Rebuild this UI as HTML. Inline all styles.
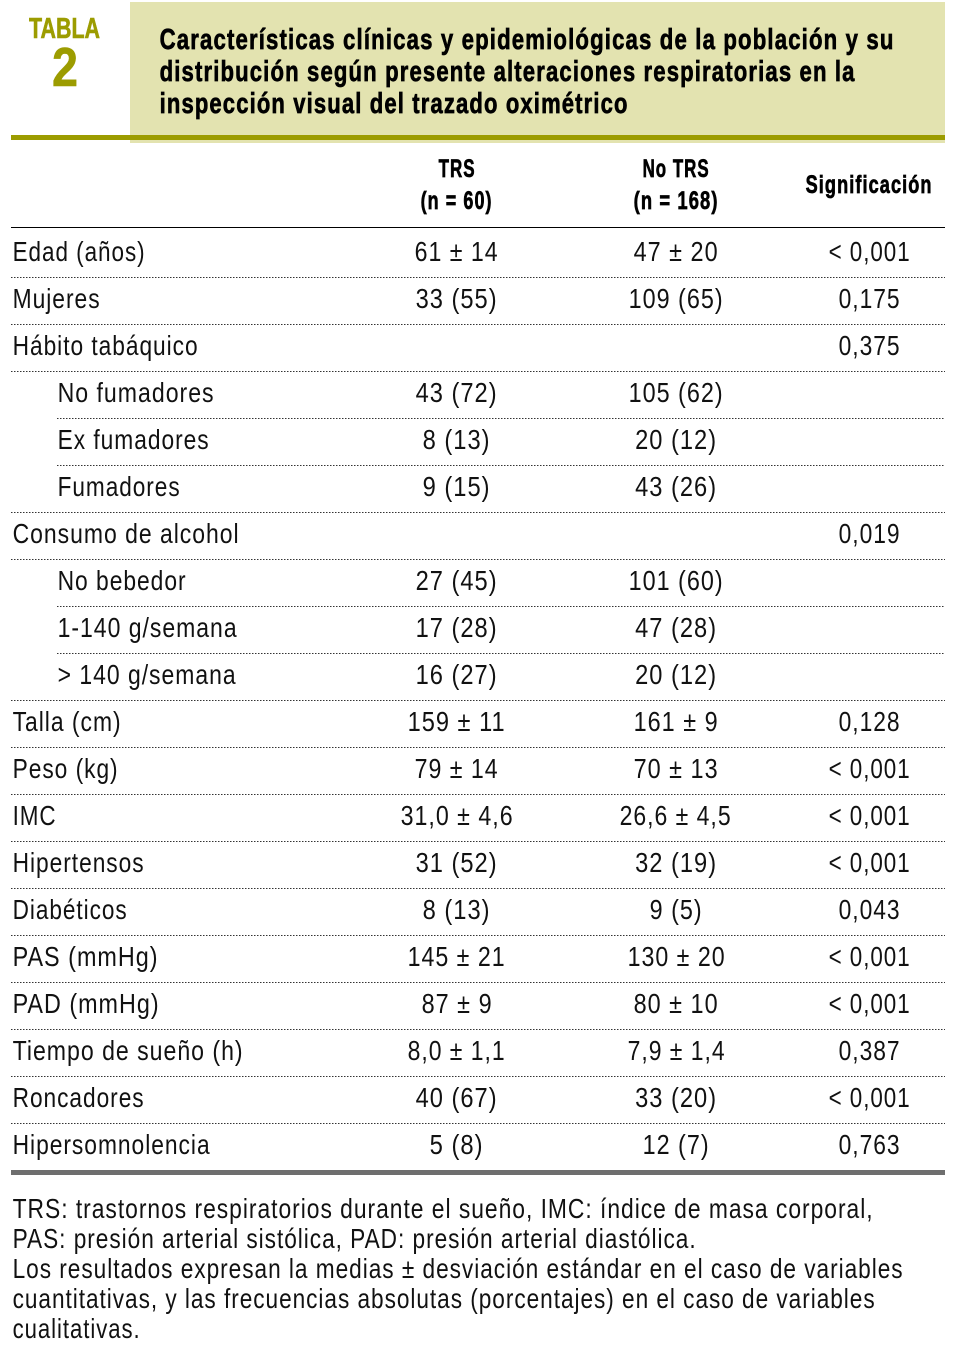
<!DOCTYPE html>
<html lang="es">
<head>
<meta charset="utf-8">
<title>Tabla 2</title>
<style>
html,body{margin:0;padding:0;background:#fff;width:953px;height:1359px;overflow:hidden}
svg{display:block;font-family:"Liberation Sans",Arial,sans-serif}
.t{font-size:28px;fill:#111;letter-spacing:1.2px}
.m{text-anchor:middle}
.b{font-weight:bold;fill:#000;stroke:#000;stroke-width:.7px;letter-spacing:1.5px}
.h{font-size:25px}
.ti{font-size:29px}
.f{font-size:28px;fill:#111;letter-spacing:1.2px}
.o{font-weight:bold;fill:#9c9c00;stroke:#9c9c00;stroke-width:.6px}
.d{stroke:#333;stroke-width:1;stroke-dasharray:1.5 1.5}
</style>
</head>
<body>
<svg width="953" height="1359" viewBox="0 0 953 1359">
<rect x="130" y="2" width="815" height="141" fill="#e3e3b0"/>
<rect x="11" y="135" width="934" height="5" fill="#9c9c00"/>
<rect x="11" y="227" width="934" height="1" fill="#000"/>
<rect x="11" y="1170" width="934" height="5" fill="#6e6e6e"/>

<line class="d" x1="11" x2="945" y1="277.5" y2="277.5"/>
<line class="d" x1="11" x2="945" y1="324.5" y2="324.5"/>
<line class="d" x1="11" x2="945" y1="371.5" y2="371.5"/>
<line class="d" x1="57" x2="945" y1="418.5" y2="418.5"/>
<line class="d" x1="57" x2="945" y1="465.5" y2="465.5"/>
<line class="d" x1="11" x2="945" y1="512.5" y2="512.5"/>
<line class="d" x1="11" x2="945" y1="559.5" y2="559.5"/>
<line class="d" x1="57" x2="945" y1="606.5" y2="606.5"/>
<line class="d" x1="57" x2="945" y1="653.5" y2="653.5"/>
<line class="d" x1="11" x2="945" y1="700.5" y2="700.5"/>
<line class="d" x1="11" x2="945" y1="747.5" y2="747.5"/>
<line class="d" x1="11" x2="945" y1="794.5" y2="794.5"/>
<line class="d" x1="11" x2="945" y1="841.5" y2="841.5"/>
<line class="d" x1="11" x2="945" y1="888.5" y2="888.5"/>
<line class="d" x1="11" x2="945" y1="935.5" y2="935.5"/>
<line class="d" x1="11" x2="945" y1="982.5" y2="982.5"/>
<line class="d" x1="11" x2="945" y1="1029.5" y2="1029.5"/>
<line class="d" x1="11" x2="945" y1="1076.5" y2="1076.5"/>
<line class="d" x1="11" x2="945" y1="1123.5" y2="1123.5"/>

<text class="o" x="29" y="38" font-size="29" textLength="71" lengthAdjust="spacingAndGlyphs">TABLA</text>
<text class="o" x="52" y="86" font-size="55" textLength="26" lengthAdjust="spacingAndGlyphs">2</text>

<g transform="translate(0.6,-1)">
<text class="b ti" x="159" y="50" textLength="735" lengthAdjust="spacingAndGlyphs">Características clínicas y epidemiológicas de la población y su</text>
<text class="b ti" x="159" y="82" textLength="696" lengthAdjust="spacingAndGlyphs">distribución según presente alteraciones respiratorias en la</text>
<text class="b ti" x="159" y="114" textLength="469" lengthAdjust="spacingAndGlyphs">inspección visual del trazado oximétrico</text>

<text class="b h m" x="456.5" y="178" textLength="37" lengthAdjust="spacingAndGlyphs">TRS</text>
<text class="b h m" x="456" y="210" textLength="72" lengthAdjust="spacingAndGlyphs">(n = 60)</text>
<text class="b h m" x="675.5" y="178" textLength="67" lengthAdjust="spacingAndGlyphs">No TRS</text>
<text class="b h m" x="675.5" y="210" textLength="85" lengthAdjust="spacingAndGlyphs">(n = 168)</text>
<text class="b h m" x="868.5" y="194" textLength="127" lengthAdjust="spacingAndGlyphs">Significación</text>

<text class="t" x="12" y="262" textLength="133" lengthAdjust="spacingAndGlyphs">Edad (años)</text>
<text class="t m" x="456" y="262" textLength="84" lengthAdjust="spacingAndGlyphs">61 ± 14</text>
<text class="t m" x="675.5" y="262" textLength="85" lengthAdjust="spacingAndGlyphs">47 ± 20</text>
<text class="t m" x="869" y="262" textLength="82" lengthAdjust="spacingAndGlyphs">&lt; 0,001</text>

<text class="t" x="12" y="309" textLength="88" lengthAdjust="spacingAndGlyphs">Mujeres</text>
<text class="t m" x="456" y="309" textLength="82" lengthAdjust="spacingAndGlyphs">33 (55)</text>
<text class="t m" x="675.5" y="309" textLength="95" lengthAdjust="spacingAndGlyphs">109 (65)</text>
<text class="t m" x="869" y="309" textLength="62" lengthAdjust="spacingAndGlyphs">0,175</text>

<text class="t" x="12" y="356" textLength="186" lengthAdjust="spacingAndGlyphs">Hábito tabáquico</text>
<text class="t m" x="869" y="356" textLength="62" lengthAdjust="spacingAndGlyphs">0,375</text>

<text class="t" x="57" y="403" textLength="157" lengthAdjust="spacingAndGlyphs">No fumadores</text>
<text class="t m" x="456" y="403" textLength="82" lengthAdjust="spacingAndGlyphs">43 (72)</text>
<text class="t m" x="675.5" y="403" textLength="95" lengthAdjust="spacingAndGlyphs">105 (62)</text>

<text class="t" x="57" y="450" textLength="152" lengthAdjust="spacingAndGlyphs">Ex fumadores</text>
<text class="t m" x="456" y="450" textLength="68" lengthAdjust="spacingAndGlyphs">8 (13)</text>
<text class="t m" x="675.5" y="450" textLength="82" lengthAdjust="spacingAndGlyphs">20 (12)</text>

<text class="t" x="57" y="497" textLength="123" lengthAdjust="spacingAndGlyphs">Fumadores</text>
<text class="t m" x="456" y="497" textLength="68" lengthAdjust="spacingAndGlyphs">9 (15)</text>
<text class="t m" x="675.5" y="497" textLength="82" lengthAdjust="spacingAndGlyphs">43 (26)</text>

<text class="t" x="12" y="544" textLength="227" lengthAdjust="spacingAndGlyphs">Consumo de alcohol</text>
<text class="t m" x="869" y="544" textLength="62" lengthAdjust="spacingAndGlyphs">0,019</text>

<text class="t" x="57" y="591" textLength="129" lengthAdjust="spacingAndGlyphs">No bebedor</text>
<text class="t m" x="456" y="591" textLength="82" lengthAdjust="spacingAndGlyphs">27 (45)</text>
<text class="t m" x="675.5" y="591" textLength="95" lengthAdjust="spacingAndGlyphs">101 (60)</text>

<text class="t" x="57" y="638" textLength="180" lengthAdjust="spacingAndGlyphs">1-140 g/semana</text>
<text class="t m" x="456" y="638" textLength="82" lengthAdjust="spacingAndGlyphs">17 (28)</text>
<text class="t m" x="675.5" y="638" textLength="82" lengthAdjust="spacingAndGlyphs">47 (28)</text>

<text class="t" x="57" y="685" textLength="179" lengthAdjust="spacingAndGlyphs">&gt; 140 g/semana</text>
<text class="t m" x="456" y="685" textLength="82" lengthAdjust="spacingAndGlyphs">16 (27)</text>
<text class="t m" x="675.5" y="685" textLength="82" lengthAdjust="spacingAndGlyphs">20 (12)</text>

<text class="t" x="12" y="732" textLength="109" lengthAdjust="spacingAndGlyphs">Talla (cm)</text>
<text class="t m" x="456" y="732" textLength="98" lengthAdjust="spacingAndGlyphs">159 ± 11</text>
<text class="t m" x="675.5" y="732" textLength="85" lengthAdjust="spacingAndGlyphs">161 ± 9</text>
<text class="t m" x="869" y="732" textLength="62" lengthAdjust="spacingAndGlyphs">0,128</text>

<text class="t" x="12" y="779" textLength="106" lengthAdjust="spacingAndGlyphs">Peso (kg)</text>
<text class="t m" x="456" y="779" textLength="84" lengthAdjust="spacingAndGlyphs">79 ± 14</text>
<text class="t m" x="675.5" y="779" textLength="85" lengthAdjust="spacingAndGlyphs">70 ± 13</text>
<text class="t m" x="869" y="779" textLength="82" lengthAdjust="spacingAndGlyphs">&lt; 0,001</text>

<text class="t" x="12" y="826" textLength="44" lengthAdjust="spacingAndGlyphs">IMC</text>
<text class="t m" x="456.5" y="826" textLength="113" lengthAdjust="spacingAndGlyphs">31,0 ± 4,6</text>
<text class="t m" x="675" y="826" textLength="112" lengthAdjust="spacingAndGlyphs">26,6 ± 4,5</text>
<text class="t m" x="869" y="826" textLength="82" lengthAdjust="spacingAndGlyphs">&lt; 0,001</text>

<text class="t" x="12" y="873" textLength="132" lengthAdjust="spacingAndGlyphs">Hipertensos</text>
<text class="t m" x="456" y="873" textLength="82" lengthAdjust="spacingAndGlyphs">31 (52)</text>
<text class="t m" x="675.5" y="873" textLength="82" lengthAdjust="spacingAndGlyphs">32 (19)</text>
<text class="t m" x="869" y="873" textLength="82" lengthAdjust="spacingAndGlyphs">&lt; 0,001</text>

<text class="t" x="12" y="920" textLength="115" lengthAdjust="spacingAndGlyphs">Diabéticos</text>
<text class="t m" x="456" y="920" textLength="68" lengthAdjust="spacingAndGlyphs">8 (13)</text>
<text class="t m" x="675.5" y="920" textLength="53" lengthAdjust="spacingAndGlyphs">9 (5)</text>
<text class="t m" x="869" y="920" textLength="62" lengthAdjust="spacingAndGlyphs">0,043</text>

<text class="t" x="12" y="967" textLength="146" lengthAdjust="spacingAndGlyphs">PAS (mmHg)</text>
<text class="t m" x="456" y="967" textLength="98" lengthAdjust="spacingAndGlyphs">145 ± 21</text>
<text class="t m" x="676" y="967" textLength="98" lengthAdjust="spacingAndGlyphs">130 ± 20</text>
<text class="t m" x="869" y="967" textLength="82" lengthAdjust="spacingAndGlyphs">&lt; 0,001</text>

<text class="t" x="12" y="1014" textLength="147" lengthAdjust="spacingAndGlyphs">PAD (mmHg)</text>
<text class="t m" x="456.5" y="1014" textLength="71" lengthAdjust="spacingAndGlyphs">87 ± 9</text>
<text class="t m" x="675.5" y="1014" textLength="85" lengthAdjust="spacingAndGlyphs">80 ± 10</text>
<text class="t m" x="869" y="1014" textLength="82" lengthAdjust="spacingAndGlyphs">&lt; 0,001</text>

<text class="t" x="12" y="1061" textLength="231" lengthAdjust="spacingAndGlyphs">Tiempo de sueño (h)</text>
<text class="t m" x="456" y="1061" textLength="98" lengthAdjust="spacingAndGlyphs">8,0 ± 1,1</text>
<text class="t m" x="676" y="1061" textLength="98" lengthAdjust="spacingAndGlyphs">7,9 ± 1,4</text>
<text class="t m" x="869" y="1061" textLength="62" lengthAdjust="spacingAndGlyphs">0,387</text>

<text class="t" x="12" y="1108" textLength="132" lengthAdjust="spacingAndGlyphs">Roncadores</text>
<text class="t m" x="456" y="1108" textLength="82" lengthAdjust="spacingAndGlyphs">40 (67)</text>
<text class="t m" x="675.5" y="1108" textLength="82" lengthAdjust="spacingAndGlyphs">33 (20)</text>
<text class="t m" x="869" y="1108" textLength="82" lengthAdjust="spacingAndGlyphs">&lt; 0,001</text>

<text class="t" x="12" y="1155" textLength="198" lengthAdjust="spacingAndGlyphs">Hipersomnolencia</text>
<text class="t m" x="456" y="1155" textLength="54" lengthAdjust="spacingAndGlyphs">5 (8)</text>
<text class="t m" x="675.5" y="1155" textLength="67" lengthAdjust="spacingAndGlyphs">12 (7)</text>
<text class="t m" x="869" y="1155" textLength="62" lengthAdjust="spacingAndGlyphs">0,763</text>

<text class="f" x="12" y="1219" textLength="861" lengthAdjust="spacingAndGlyphs">TRS: trastornos respiratorios durante el sueño, IMC: índice de masa corporal,</text>
<text class="f" x="12" y="1249" textLength="684" lengthAdjust="spacingAndGlyphs">PAS: presión arterial sistólica, PAD: presión arterial diastólica.</text>
<text class="f" x="12" y="1279" textLength="891" lengthAdjust="spacingAndGlyphs">Los resultados expresan la medias ± desviación estándar en el caso de variables</text>
<text class="f" x="12" y="1309" textLength="863" lengthAdjust="spacingAndGlyphs">cuantitativas, y las frecuencias absolutas (porcentajes) en el caso de variables</text>
<text class="f" x="12" y="1339" textLength="128" lengthAdjust="spacingAndGlyphs">cualitativas.</text>
</g>
</svg>
</body>
</html>
